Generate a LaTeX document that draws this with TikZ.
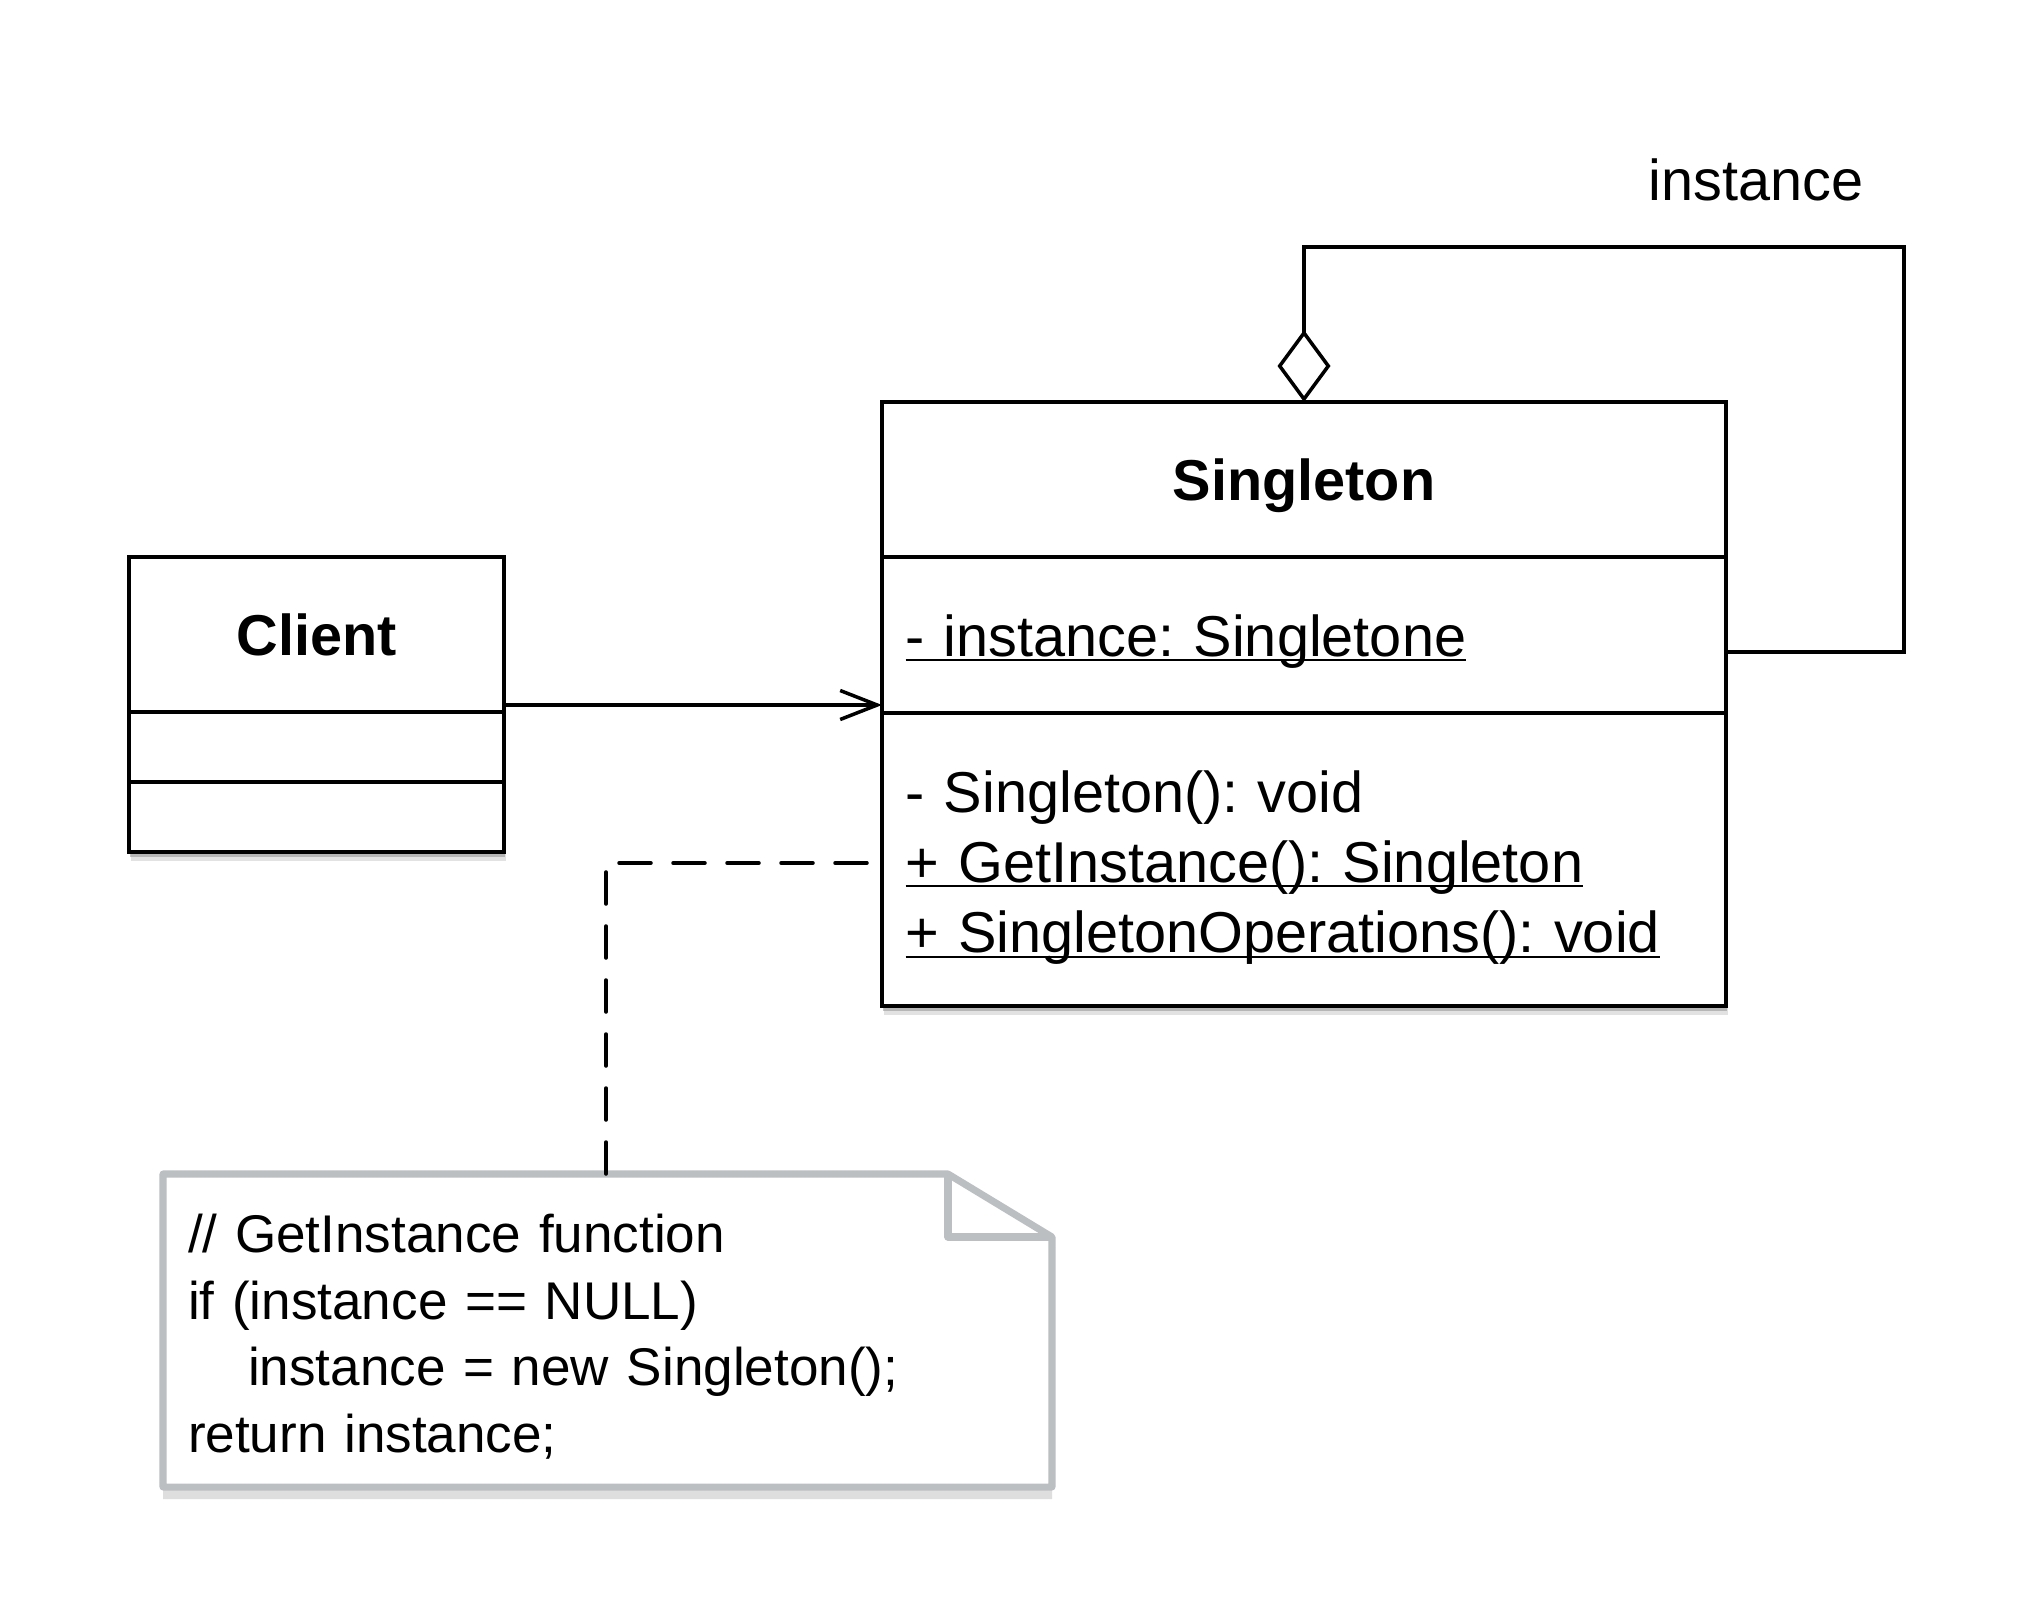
\documentclass[tikz,border=0pt]{standalone}
\usepackage{fontspec}
\setmainfont{Liberation Sans}
\frenchspacing
\usepackage{tikz}
\usetikzlibrary{arrows.meta, positioning, shadows, backgrounds}
\definecolor{notegray}{RGB}{187,191,193}
\definecolor{noteshadow}{RGB}{222,222,222}
\newsavebox{\ulbox}
\newcommand{\ulstatic}[1]{\leavevmode\sbox\ulbox{#1}\rlap{\rule[-1.4pt]{\wd\ulbox}{0.6pt}}\usebox\ulbox}

\begin{document}
\begin{tikzpicture}[
    classfont/.style={font=\fontsize{16.4}{20}\selectfont},
    part/.style={draw, line width=1.1pt, fill=white, outer sep=0pt, inner sep=0pt, classfont},
    classhead/.style={font=\fontsize{16.4}{20}\selectfont\bfseries, text height=0.42cm, text depth=0pt},
    members/.style={part, text width=7.97cm, inner xsep=0.235cm, align=left},
    boxshadow/.style={drop shadow={shadow xshift=0.015cm, shadow yshift=-0.09cm, fill=black!25, opacity=0.45},
                      drop shadow={shadow xshift=0.01cm, shadow yshift=-0.05cm, fill=black!45, opacity=0.5}},
    conn/.style={line width=1pt},
    notebdr/.style={draw=notegray, line width=2pt, line join=round},
]
% Page
\begin{scope}[on background layer]
\fill[white] (0,0) rectangle (20.37,-16.16);
\end{scope}
\useasboundingbox (0,0) rectangle (20.37,-16.16);

% Client class
\node[part, classhead, minimum width=3.75cm, minimum height=1.55cm] (clhead) at (3.165,-6.345) {Client};
\node[part, minimum width=3.75cm, minimum height=0.70cm, below=0pt of clhead] (clattr) {};
\node[part, boxshadow, minimum width=3.75cm, minimum height=0.70cm, below=0pt of clattr] (clops) {};

% Singleton class
\node[part, classhead, minimum width=8.44cm, minimum height=1.55cm] (sghead) at (13.04,-4.795) {Singleton};
\node[members, minimum height=1.56cm, text height=0.42cm, text depth=0pt, below=0pt of sghead] (sgattr) {\ulstatic{- instance: Singletone}};
\node[members, boxshadow, minimum height=2.93cm, below=0pt of sgattr] (sgops) {\rule{0pt}{0.581cm}- Singleton(): void\\
    \ulstatic{+ GetInstance(): Singleton}\\
    \ulstatic{+ SingletonOperations(): void}};

% Self aggregation
\coordinate (loopne) at (19.04,-2.47);
\draw[conn, -{Diamond[open, length=0.72cm, width=0.53cm]}] ([yshift=-0.17cm]sgattr.east) -| (loopne) -| (sghead.north);
\node[classfont, anchor=base] (instlbl) at (17.56,-2.00) {instance};

% Client uses Singleton
\draw[conn, -{Straight Barb[length=0.37cm, width=0.29cm]}] ([yshift=0.07cm]clhead.south east) -- ([yshift=0.08cm]sgattr.south west);

% Note
\node[minimum width=8.89cm, minimum height=3.13cm, text width=8.39cm, inner xsep=0.25cm, inner ysep=0pt, outer sep=0pt, align=left, font=\fontsize{15.1}{18.9}\selectfont] (note) at (6.075,-13.305) {\rule{0pt}{0.508cm}// GetInstance function\\
    if (instance == NULL)\\
    \hspace*{0.6cm}instance = new Singleton();\\
    return instance;};
\begin{scope}[on background layer]
\draw[notebdr, fill=white, drop shadow={shadow xshift=0cm, shadow yshift=-0.12cm, fill=noteshadow, opacity=1}] (note.north west) -- ([xshift=-1.04cm]note.north east) -- ([yshift=-0.63cm]note.north east) -- (note.south east) -- (note.south west) -- cycle;
\draw[notebdr] ([xshift=-1.04cm]note.north east) |- ([yshift=-0.63cm]note.north east);
\end{scope}

% Note link
\draw[conn, dash pattern=on 0.32cm off 0.22cm, line cap=round] ([xshift=4.43cm]note.north west) |- ([xshift=-0.1cm,yshift=-0.035cm]sgops.west);

\end{tikzpicture}
\end{document}
